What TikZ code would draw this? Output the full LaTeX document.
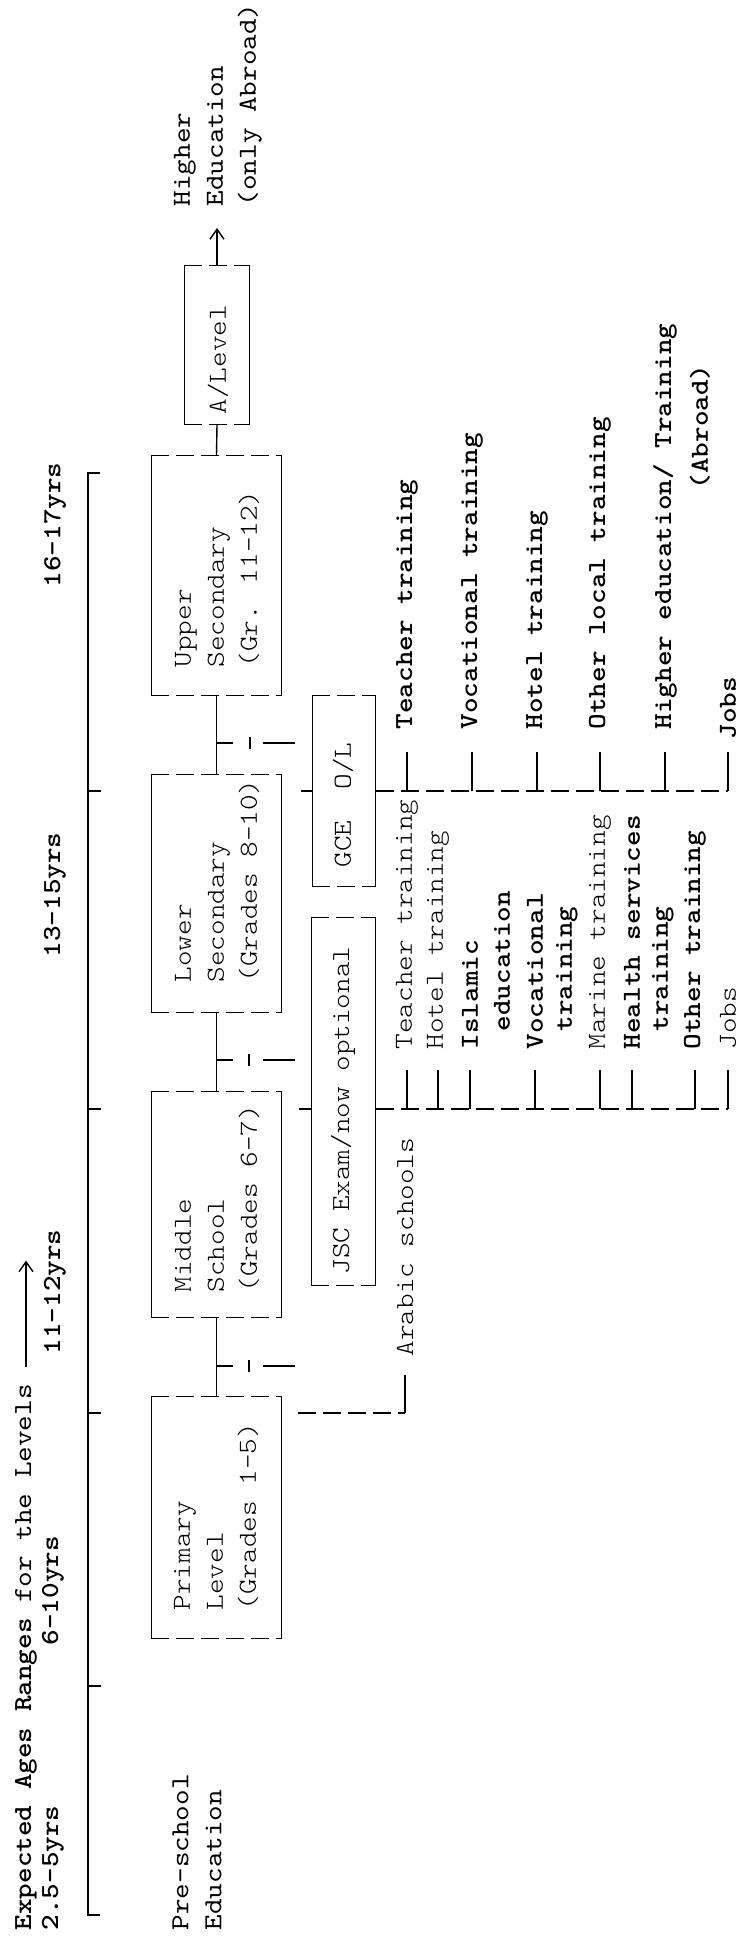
\documentclass[tikz,border=0pt]{standalone}
\usepackage{fontspec}
% typewriter faces, widened to a 0.6em pitch
\newfontfamily\twlight{lmmonolt10-regular.otf}[FakeStretch=1.143]
\newfontfamily\twmid{lmmono10-regular.otf}[FakeStretch=1.143]
\newfontfamily\twheavy{lmmonolt10-bold.otf}[FakeStretch=1.143]
\usetikzlibrary{arrows.meta}

% dashed top/bottom edges, solid sides
\newcommand\stageframe[1]{%
  \draw (#1.north west) -- (#1.south west) (#1.north east) -- (#1.south east);
  \draw[brk] (#1.north west) -- (#1.north east) (#1.south west) -- (#1.south east);}

\begin{document}
\begin{tikzpicture}[x=0.5pt,y=-0.5pt,line width=0.7pt,
  every node/.style={inner sep=0pt},
  txt/.style={rotate=90,anchor=west,align=left},
  lt/.style={txt,font=\fontsize{13}{16.5}\selectfont\twlight},
  md/.style={txt,font=\fontsize{13}{16.5}\selectfont\twmid},
  hv/.style={txt,font=\fontsize{13}{16.5}\selectfont\twheavy},
  stage/.style={draw=none,inner sep=0pt},
  brk/.style={dash pattern=on 9pt off 3.5pt},
  side/.style={dash pattern=on 8pt off 15pt on 16pt},
  tip/.style={-{Straight Barb[length=5pt,width=7pt]}}
]
\useasboundingbox (0,0) rectangle (740,1936);

% ---- age axis ----
\coordinate (atop) at (88,473);
\coordinate (abot) at (88,1915);
\coordinate (a1) at (88,1686);
\coordinate (a2) at (88,1413);
\coordinate (a3) at (88,1109);
\coordinate (a4) at (88,791);
\draw ([xshift=6pt]atop) -- (atop) -- (abot) -- ([xshift=6pt]abot);
\foreach \t in {a1,a2,a3,a4} \draw (\t) -- ([xshift=6.5pt]\t);

\node[md] (title) at (26,1931) {{\twheavy Expected Ages Ranges} for the Levels};
\draw[tip] ([yshift=8.5pt]title.east) -- ([yshift=61.5pt]title.east);

\node[hv] (age1) at (53,1931) {2.5-5yrs};
\node[hv] (age2) at (53,1646) {6-10yrs};
\node[hv] (age3) at (55,1355) {11-12yrs};
\node[hv] (age4) at (55,958) {13-15yrs};
\node[hv] (age5) at (55,588) {16-17yrs};

% ---- stages ----
\node[md] (pre) at (197,1931) {Pre-school\\Education};

\node[stage,minimum width=64.5pt,minimum height=120.5pt] (primary) at (216.5,1517.5) {};
\node[stage,minimum width=64.5pt,minimum height=112.5pt] (middle) at (216.5,1204.5) {};
\node[stage,minimum width=64.5pt,minimum height=118.5pt] (lower) at (216.5,893.5) {};
\node[stage,minimum width=64.5pt,minimum height=119.5pt] (upper) at (216.5,575.5) {};
\node[stage,minimum width=32pt,minimum height=79pt] (alevel) at (217,345) {};
\node[stage,minimum width=31.5pt,minimum height=183.5pt] (jsc) at (343.5,1101.5) {};
\node[stage,minimum width=31pt,minimum height=95pt] (gce) at (344,791) {};
\foreach \b in {primary,middle,lower,upper,alevel,jsc,gce} {\stageframe{\b}}

\node[lt] (primaryT) at (216,1611) {Primary\\Level\\(Grades 1-5)};
\node[lt] (middleT) at (217,1293) {Middle\\School\\(Grades 6-7)};
\node[lt] (lowerT) at (217,983) {Lower\\Secondary\\(Grades 8-10)};
\node[lt] (upperT) at (217,668) {Upper\\Secondary\\(Gr. 11-12)};
\node[lt] (alevelT) at (218,415) {A/Level};
\node[lt] (jscT) at (343,1275) {JSC Exam/now optional};
\node[lt] (gceT) at (343,868) {GCE\ \ O/L};

\node[md] (higher) at (218,207) {Higher\\Education\\(only Abroad)};

% ---- links between stages ----
\draw (primary.north) -- (middle.south);
\draw (middle.north) -- (lower.south);
\draw (lower.north) -- (upper.south);
\draw (upper.north) -- (alevel.south);
\draw[tip,shorten >=10.5pt] (alevel.north) -- (alevel.north |- higher.west);

% side exits between stages
\coordinate (s1) at (295,1366);
\coordinate (s2) at (295,1060);
\coordinate (s3) at (295,743);
\coordinate (s1b) at (249,1366);
\coordinate (s2b) at (249,1060);
\coordinate (s3b) at (250,743);
\draw[side] (primary.north |- s1) -- (s1);
\draw[side] (middle.north |- s2) -- (s2);
\draw[side] (lower.north |- s3) -- (s3);
\foreach \s in {s1b,s2b,s3b} \draw ([yshift=3pt]\s) -- ([yshift=-3pt]\s);

% ---- Arabic schools ----
\node[lt] (arabic) at (405,1357) {Arabic schools};
\coordinate (arb) at (298,1413);
\draw[brk] (arb) -- (arabic.west |- a2);
\draw[shorten >=9pt] (arabic.west |- a2) -- (arabic.west);

% ---- after JSC ----
\node[lt] (teachL) at (407,1050) {Teacher training};
\node[lt] (hotelL) at (438,1050) {Hotel training};
\node[hv] (islamL) at (470,1050) {Islamic};
\node[hv] (islamL2) at (502,1032) {education};
\node[hv] (vocL) at (535,1050) {Vocational};
\node[hv] (vocL2) at (567,1032) {training};
\node[lt] (marineL) at (600,1050) {Marine training};
\node[hv] (healthL) at (632,1050) {Health services};
\node[hv] (healthL2) at (663,1032) {training};
\node[hv] (otherL) at (695,1050) {Other training};
\node[lt] (jobsL) at (728,1050) {Jobs};

\draw (jsc.west |- a3) -- ++(-12,0);
\draw[brk] (jsc.east |- a3) -- (jobsL.west |- a3);
\foreach \n in {teachL,hotelL,islamL,vocL,marineL,healthL,otherL,jobsL}
  \draw[shorten >=10pt] (\n.west |- a3) -- (\n.west);

% ---- after GCE O/L ----
\node[hv] (teachR) at (407,730) {Teacher training};
\node[hv] (vocR) at (472,730) {Vocational training};
\node[hv] (hotelR) at (537,730) {Hotel training};
\node[hv] (otherR) at (600,730) {Other local training};
\node[hv] (highR) at (665,730) {Higher education/ Training};
\node[hv] (highR2) at (700,490) {(Abroad)};
\node[hv] (jobsR) at (728,740) {Jobs};

\draw (gce.west |- a4) -- ++(-11,0);
\draw[brk] (gce.east |- a4) -- (jobsR.west |- a4);
\foreach \n in {teachR,vocR,hotelR,otherR,highR}
  \draw[shorten >=11pt] (\n.west |- a4) -- (\n.west);
\draw[shorten >=6pt] (jobsR.west |- a4) -- (jobsR.west);
\end{tikzpicture}
\end{document}
